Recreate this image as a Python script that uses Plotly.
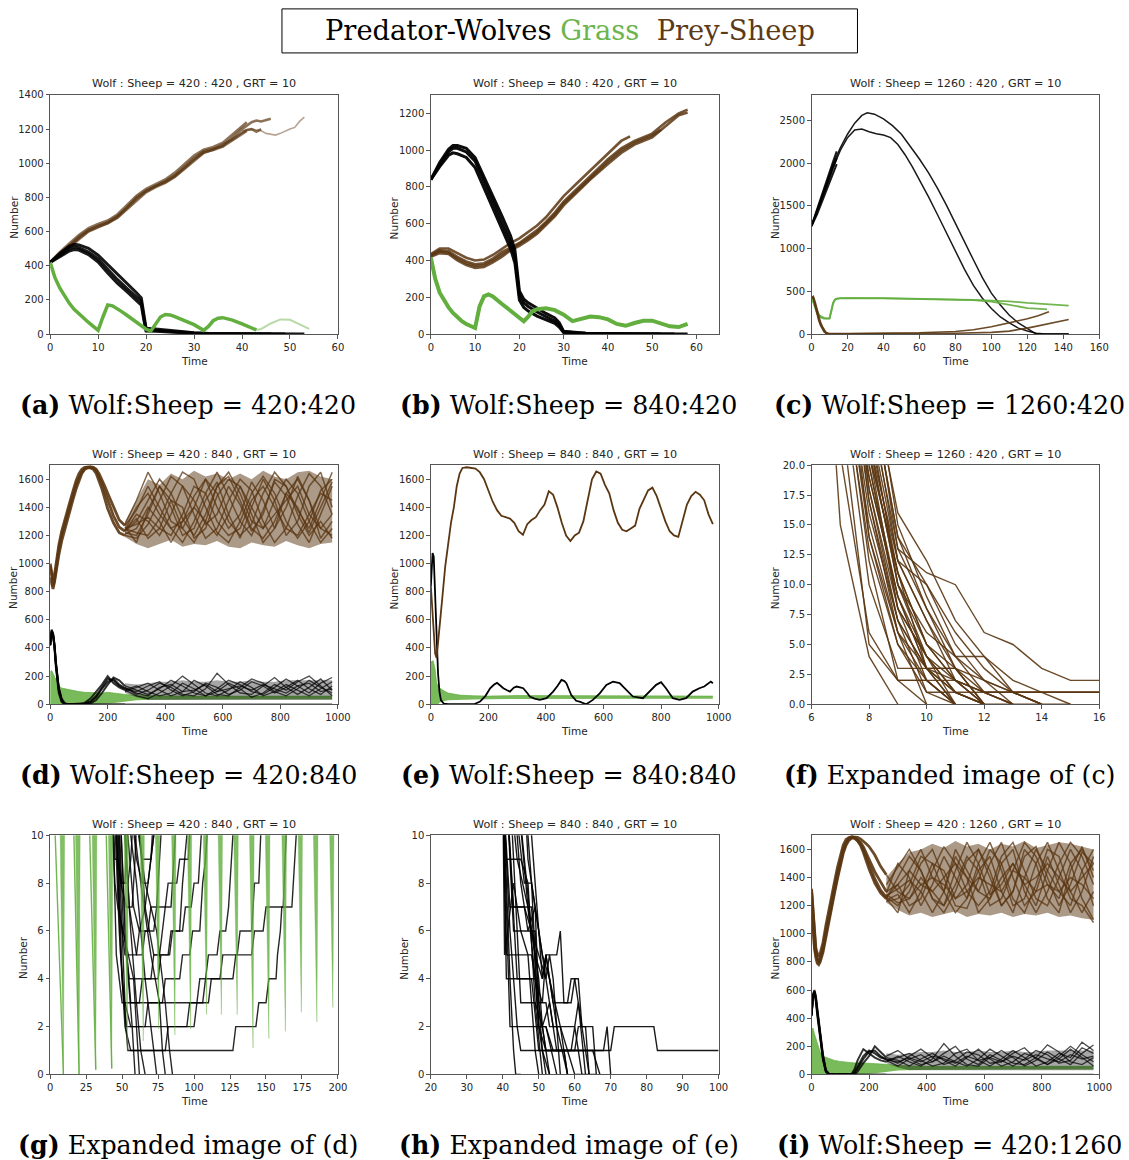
import plotly.graph_objects as go

FIG_W, FIG_H = 1129, 1160
# measured mapping of figure pixels to the photographed page (screen = S * fig + C)
SCREEN_SX, SCREEN_CX = 0.984, 5.8
SCREEN_SY, SCREEN_CY = 0.990, 5.1
WOLF_RGB = (0, 0, 0)
GRASS_RGB = (98, 174, 62)
SHEEP_RGB = (90, 54, 18)

# ---------------- panel layout (target screen pixel boxes) ----------------
COLS = [(50, 338), (431, 719), (812, 1100)]
ROWS = [(94, 333), (464, 703), (834, 1073)]

# ---------------- text ----------------
PANEL_TITLES = ["Wolf : Sheep = 420 : 420 , GRT = 10", "Wolf : Sheep = 840 : 420 , GRT = 10",
                "Wolf : Sheep = 1260 : 420 , GRT = 10", "Wolf : Sheep = 420 : 840 , GRT = 10",
                "Wolf : Sheep = 840 : 840 , GRT = 10", "Wolf : Sheep = 1260 : 420 , GRT = 10",
                "Wolf : Sheep = 420 : 840 , GRT = 10", "Wolf : Sheep = 840 : 840 , GRT = 10",
                "Wolf : Sheep = 420 : 1260 , GRT = 10"]
CAP_TAGS = ["(a)", "(b)", "(c)", "(d)", "(e)", "(f)", "(g)", "(h)", "(i)"]
CAP_TEXT = ["Wolf:Sheep = 420:420", "Wolf:Sheep = 840:420", "Wolf:Sheep = 1260:420",
            "Wolf:Sheep = 420:840", "Wolf:Sheep = 840:840", "Expanded image of (c)",
            "Expanded image of (d)", "Expanded image of (e)", "Wolf:Sheep = 420:1260"]

# ---------------- axes ----------------
X_RANGES = [[0, 60], [0, 65], [0, 160], [0, 1000], [0, 1000], [6, 16], [0, 200], [20, 100], [0, 1000]]
Y_RANGES = [[0, 1400], [0, 1300], [0, 2800], [0, 1700], [0, 1700], [0, 20], [0, 10], [0, 10], [0, 1700]]
X_TICKS = [[0, 10, 20, 30, 40, 50, 60], [0, 10, 20, 30, 40, 50, 60],
           [0, 20, 40, 60, 80, 100, 120, 140, 160], [0, 200, 400, 600, 800, 1000],
           [0, 200, 400, 600, 800, 1000], [6, 8, 10, 12, 14, 16],
           [0, 25, 50, 75, 100, 125, 150, 175, 200], [20, 30, 40, 50, 60, 70, 80, 90, 100],
           [0, 200, 400, 600, 800, 1000]]
Y_TICKS = [[0, 200, 400, 600, 800, 1000, 1200, 1400], [0, 200, 400, 600, 800, 1000, 1200],
           [0, 500, 1000, 1500, 2000, 2500], [0, 200, 400, 600, 800, 1000, 1200, 1400, 1600],
           [0, 200, 400, 600, 800, 1000, 1200, 1400, 1600],
           [0, 2.5, 5, 7.5, 10, 12.5, 15, 17.5, 20], [0, 2, 4, 6, 8, 10], [0, 2, 4, 6, 8, 10],
           [0, 200, 400, 600, 800, 1000, 1200, 1400, 1600]]

# ================= DATA =================
# (a) 420:420
A_SHEEP = [
    [(0,420),(2,470),(4,520),(6,570),(8,610),(10,635),(12,655),(14,690),(16,740),(18,800),(20,840),(22,870),(24,895),(26,930),(28,980),(30,1030),(32,1070),(34,1085),(36,1100),(38,1150),(40,1200),(42,1240),(43,1250),(44,1245),(46,1260)],
    [(0,420),(2,460),(4,505),(6,555),(8,600),(10,625),(12,650),(14,680),(16,730),(18,785),(20,830),(22,860),(24,885),(26,920),(28,965),(30,1015),(32,1060),(34,1080),(36,1110),(38,1140),(40,1180),(41,1195),(42,1200),(43,1185),(44,1200)],
    [(0,420),(2,480),(4,530),(6,580),(8,620),(10,645),(12,665),(14,700),(16,755),(18,810),(20,850),(22,880),(24,905),(26,945),(28,995),(30,1045),(32,1080),(34,1095),(36,1120),(38,1170),(40,1215),(41,1240)],
    [(0,420),(2,465),(4,512),(6,562),(8,605),(10,630),(12,648),(14,684),(16,736),(18,792),(20,836),(22,866),(24,890),(26,925),(28,972),(30,1022),(32,1064),(34,1078),(36,1098),(38,1135),(40,1170),(41,1190)],
]
A_SHEEP_TAIL = [(40,1190),(42,1200),(44,1190),(45,1175),(47,1165),(48,1175),(50,1200),(51,1210),(52,1245),(53,1270)]
A_WOLF = [
    [(0,420),(2,460),(4,500),(5,510),(6,505),(8,480),(10,440),(12,380),(14,320),(16,268),(18,215),(19,192),(19.5,100),(20,25),(22,22),(25,15),(28,10),(30,6),(33,3),(36,2),(40,1),(45,0),(53,0)],
    [(0,420),(2,472),(4,515),(5,526),(6,522),(8,502),(10,462),(12,408),(14,350),(16,295),(18,242),(19,212),(19.5,125),(20,34),(22,30),(25,21),(28,13),(30,8),(33,4),(36,2),(40,1),(45,0),(49,0)],
    [(0,420),(2,452),(4,486),(5,495),(6,492),(8,465),(10,422),(12,358),(14,298),(16,248),(18,194),(19,170),(19.5,88),(20,18),(22,16),(25,11),(28,7),(30,4),(33,2),(36,1),(40,0),(46,0)],
]
A_GRASS = [(0,420),(1,330),(2,270),(3,220),(4,180),(5,145),(6,118),(7,92),(8,68),(9,45),(10,22),(11,100),(12,170),(13,165),(14,150),(15,130),(16,110),(17,90),(18,68),(19,48),(20,28),(21,18),(22,60),(23,100),(24,115),(25,112),(26,102),(28,80),(30,55),(32,22),(33,45),(34,78),(35,93),(36,96),(38,82),(40,60),(42,38),(43,24)]
A_GRASS_TAIL = [(43,24),(44,30),(46,62),(48,86),(50,84),(52,58),(54,30)]

# (b) 840:420
B_WOLF = [
    [(0,840),(2,920),(4,990),(5,1010),(6,1010),(8,990),(10,940),(12,830),(14,720),(16,610),(18,500),(19,420),(20,210),(21,170),(22,150),(24,120),(26,95),(28,70),(29,50),(30,12),(32,8),(35,4),(40,2),(45,1),(50,0),(58,0)],
    [(0,840),(2,910),(4,972),(5,985),(6,980),(8,960),(10,905),(12,795),(14,685),(16,578),(18,465),(19,385),(20,185),(21,145),(22,125),(24,98),(26,78),(28,58),(29,38),(30,8),(32,5),(35,3),(40,1),(45,0),(55,0)],
    [(0,840),(2,932),(4,1005),(5,1025),(6,1025),(8,1010),(10,960),(12,858),(14,752),(16,645),(18,535),(19,455),(20,235),(21,190),(22,170),(24,140),(26,112),(28,88),(29,62),(30,15),(32,10),(35,5),(40,3),(45,1),(52,0)],
]
B_SHEEP = [
    [(0,430),(2,455),(4,450),(6,420),(8,395),(10,380),(12,385),(14,410),(16,445),(18,470),(20,495),(22,530),(24,565),(26,610),(28,660),(30,720),(33,790),(36,860),(40,950),(43,1010),(46,1050),(50,1090),(53,1150),(56,1200),(58,1220)],
    [(0,420),(2,440),(4,435),(6,400),(8,375),(10,360),(12,365),(14,390),(16,420),(18,455),(20,480),(22,510),(24,545),(26,590),(28,640),(30,700),(33,770),(36,840),(40,925),(43,985),(46,1030),(50,1070),(53,1130),(56,1190),(58,1205)],
    [(0,435),(2,465),(4,465),(6,440),(8,415),(10,400),(12,405),(14,430),(16,465),(18,495),(20,520),(22,555),(24,590),(26,635),(28,690),(30,750),(33,820),(36,890),(40,985),(43,1050),(45,1075)],
    [(0,425),(2,450),(4,442),(6,410),(8,385),(10,370),(12,375),(14,400),(16,432),(18,462),(20,488),(22,520),(24,555),(26,600),(28,650),(30,710),(33,780),(36,850),(40,938),(43,998),(46,1040),(50,1080),(52,1110)],
]
B_GRASS = [(0,415),(1,300),(2,225),(3,180),(4,145),(5,115),(6,90),(7,70),(8,55),(9,42),(10,33),(11,150),(12,205),(13,215),(14,205),(16,165),(18,125),(20,90),(21,70),(22,95),(23,125),(24,135),(25,140),(26,140),(28,130),(30,105),(32,70),(33,75),(34,85),(36,95),(38,92),(40,80),(42,55),(44,45),(46,60),(48,72),(50,73),(52,60),(54,42),(56,38),(58,55)]

# (c) 1260:420
C_WOLF_LONG = [
    [(0,1266),(4,1500),(8,1750),(12,1990),(16,2180),(20,2340),(24,2470),(28,2560),(31,2590),(35,2575),(40,2520),(45,2440),(50,2340),(55,2200),(60,2050),(65,1890),(70,1710),(75,1510),(80,1290),(85,1080),(90,870),(95,660),(100,480),(105,340),(110,220),(115,130),(120,60),(123,20),(125,0),(143,0)],
    [(0,1266),(4,1480),(8,1720),(12,1950),(16,2150),(20,2300),(24,2390),(28,2400),(32,2370),(36,2345),(40,2330),(44,2300),(48,2220),(52,2100),(56,1960),(60,1810),(65,1610),(70,1400),(75,1180),(80,970),(85,760),(90,570),(95,420),(100,300),(105,200),(110,130),(115,70),(120,35),(125,10),(130,0),(143,0)],
]
C_WOLF_SHORT = [
    [(0,1266),(3,1430),(6,1600),(9,1770),(12,1950),(14,2060)],
    [(0,1266),(3,1460),(6,1650),(9,1830),(12,2020),(14,2140)],
    [(0,1266),(3,1400),(6,1560),(9,1720),(12,1890),(14,1990)],
]
C_SHEEP = [
    [(0,420),(1,440),(2,380),(3,290),(4,210),(5,140),(6,90),(7,50),(8,22),(9,10),(10,5),(20,5),(40,8),(60,15),(80,30),(90,50),(100,85),(110,130),(120,180),(126,215),(132,260)],
    [(0,420),(1,430),(2,350),(3,260),(4,180),(5,120),(6,70),(7,35),(8,15),(9,6),(10,3),(20,2),(40,3),(60,5),(80,10),(100,20),(110,35),(120,70),(130,115),(136,145),(143,170)],
    [(0,440),(1,420),(2,330),(3,240),(4,160),(5,100),(6,55),(7,25),(8,10),(9,3),(10,0),(14,0)],
]
C_GRASS = [
    [(0,430),(1,380),(2,320),(3,260),(4,230),(5,210),(6,195),(7,190),(8,185),(9,183),(10,185),(11,280),(12,370),(13,405),(14,415),(16,420),(20,422),(40,420),(60,415),(80,405),(90,400),(100,392),(110,384),(120,365),(130,350),(143,333)],
    [(0,430),(1,370),(2,300),(3,245),(4,215),(5,195),(6,185),(7,180),(8,178),(9,178),(10,182),(11,260),(12,355),(13,400),(14,412),(16,418),(20,420),(40,418),(60,412),(80,405),(90,398),(100,380),(105,360),(110,340),(115,320),(120,305),(125,298),(131,290)],
]

# (d) 420:840
D_EARLY_T = [0, 5, 10, 15, 20, 30, 40, 50, 60, 70, 80, 90, 100, 110, 120, 130, 140, 150, 160, 170, 180, 190, 200, 220, 240, 260]
D_SHEEP_EARLY = [
    [990, 900, 840, 880, 960, 1100, 1200, 1280, 1340, 1420, 1490, 1560, 1610, 1650, 1675, 1685, 1685, 1680, 1660, 1620, 1570, 1510, 1450, 1340, 1260, 1230],
    [900, 850, 820, 870, 940, 1060, 1160, 1240, 1310, 1390, 1460, 1530, 1590, 1640, 1670, 1680, 1680, 1670, 1640, 1590, 1530, 1460, 1390, 1290, 1220, 1200],
    [1000, 940, 880, 920, 1000, 1130, 1230, 1310, 1380, 1450, 1520, 1590, 1640, 1670, 1685, 1690, 1690, 1685, 1670, 1640, 1600, 1550, 1500, 1400, 1310, 1270],
]
LATE_T = [260, 300, 340, 380, 420, 460, 500, 540, 580, 620, 660, 700, 740, 780, 820, 860, 900, 940, 980]
D_SHEEP_LATE = [
    [1230, 1300, 1450, 1600, 1500, 1320, 1200, 1350, 1550, 1620, 1450, 1250, 1180, 1300, 1500, 1600, 1450, 1250, 1200],
    [1200, 1180, 1280, 1450, 1620, 1550, 1350, 1180, 1250, 1450, 1600, 1520, 1300, 1150, 1250, 1480, 1640, 1550, 1350],
    [1270, 1380, 1550, 1400, 1250, 1150, 1300, 1500, 1650, 1480, 1300, 1200, 1380, 1580, 1480, 1280, 1150, 1350, 1550],
    [1250, 1220, 1200, 1320, 1500, 1650, 1600, 1400, 1220, 1150, 1300, 1500, 1620, 1500, 1300, 1180, 1300, 1520, 1600],
    [1230, 1350, 1300, 1200, 1350, 1550, 1450, 1280, 1350, 1550, 1420, 1230, 1350, 1600, 1550, 1350, 1200, 1300, 1180],
    [1260, 1150, 1380, 1550, 1400, 1200, 1250, 1450, 1580, 1350, 1180, 1400, 1600, 1450, 1200, 1300, 1550, 1650, 1400],
    [1210, 1250, 1400, 1300, 1150, 1300, 1480, 1600, 1400, 1250, 1350, 1580, 1450, 1250, 1400, 1620, 1450, 1180, 1300],
    [1240, 1320, 1180, 1250, 1450, 1400, 1180, 1250, 1480, 1600, 1550, 1350, 1150, 1250, 1500, 1400, 1220, 1400, 1580],
    [1280, 1450, 1650, 1500, 1300, 1250, 1400, 1600, 1500, 1300, 1200, 1280, 1500, 1650, 1550, 1380, 1250, 1450, 1650],
    [1220, 1200, 1350, 1550, 1450, 1250, 1150, 1300, 1550, 1650, 1500, 1300, 1250, 1450, 1600, 1500, 1300, 1150, 1250],
    [1250, 1280, 1330, 1250, 1200, 1350, 1550, 1500, 1300, 1200, 1250, 1450, 1550, 1400, 1250, 1200, 1350, 1500, 1450],
    [1240, 1400, 1500, 1350, 1250, 1300, 1400, 1300, 1200, 1350, 1550, 1400, 1250, 1350, 1450, 1550, 1350, 1250, 1350],
]
D_SHEEP_BAND_LO = [1190, 1140, 1110, 1140, 1170, 1120, 1140, 1130, 1160, 1120, 1110, 1150, 1130, 1120, 1160, 1130, 1110, 1140, 1150]
D_SHEEP_BAND_UP = [1300, 1450, 1600, 1560, 1640, 1600, 1660, 1620, 1640, 1600, 1640, 1600, 1660, 1620, 1600, 1650, 1660, 1620, 1600]
D_WOLF_T = [0, 5, 10, 15, 20, 25, 30, 40, 50, 60, 80, 100, 120, 140, 160, 180, 200, 220, 240, 260]
D_WOLF_EARLY = [
    [420, 520, 500, 420, 290, 180, 110, 30, 5, 0, 0, 0, 5, 20, 60, 120, 180, 170, 130, 110],
    [420, 510, 490, 400, 260, 150, 80, 15, 2, 0, 0, 0, 0, 5, 30, 80, 140, 190, 170, 130],
    [420, 530, 505, 430, 300, 190, 120, 40, 8, 0, 0, 0, 0, 0, 0, 0, 0, 0, 0, 0],
    [420, 515, 495, 410, 280, 170, 100, 25, 4, 0, 0, 0, 10, 40, 90, 140, 200, 150, 120, 100],
    [420, 525, 498, 415, 285, 175, 105, 28, 5, 0, 0, 0, 2, 15, 50, 110, 160, 180, 140, 115],
]
D_WOLF_LATE = [
    [110, 90, 130, 160, 100, 60, 90, 150, 120, 70, 100, 160, 130, 80, 120, 170, 110, 70, 130],
    [130, 100, 70, 110, 170, 130, 80, 60, 110, 170, 140, 90, 70, 120, 180, 130, 80, 150, 190],
    [100, 60, 40, 80, 130, 200, 140, 80, 60, 100, 160, 120, 60, 90, 140, 100, 60, 110, 160],
    [90, 120, 150, 100, 60, 90, 170, 130, 70, 60, 120, 180, 150, 90, 60, 110, 170, 120, 80],
    [120, 70, 100, 150, 120, 70, 60, 110, 220, 140, 80, 70, 130, 190, 120, 70, 120, 180, 100],
    [100, 130, 90, 60, 80, 150, 110, 60, 90, 150, 110, 50, 80, 140, 100, 160, 200, 130, 60],
    [115, 80, 60, 120, 140, 90, 100, 140, 90, 110, 130, 100, 140, 110, 80, 130, 150, 90, 110],
    [0, 0, 0, 0, 0, 0, 0, 0, 0, 0, 0, 0, 0, 0, 0, 0, 0, 0, 0],
]
D_WOLF_BAND_LO = [80, 50, 30, 30, 30, 30, 30, 30, 30, 30, 30, 30, 30, 30, 30, 30, 30, 30, 30]
D_WOLF_BAND_UP = [150, 140, 150, 160, 160, 170, 160, 160, 170, 160, 160, 170, 160, 160, 170, 170, 170, 170, 170]
GRASS_ENV_T = [0, 5, 10, 20, 30, 40, 60, 80, 100, 120, 150, 180, 200, 230, 260, 300, 350, 400, 500, 600, 700, 800, 900, 980]
D_GRASS_UP = [230, 240, 220, 170, 130, 115, 105, 95, 90, 85, 80, 80, 85, 80, 70, 62, 60, 58, 58, 58, 58, 58, 58, 58]
D_GRASS_LO = [0, 0, 0, 0, 0, 0, 0, 0, 0, 0, 0, 2, 5, 10, 20, 28, 32, 33, 35, 35, 35, 36, 36, 36]

# (e) 840:840
E_SHEEP = [(0,840),(5,650),(10,480),(15,360),(20,330),(30,520),(40,760),(50,980),(60,1150),(70,1290),(80,1400),(90,1550),(100,1640),(110,1680),(125,1685),(140,1680),(155,1675),(170,1650),(185,1600),(200,1520),(215,1440),(230,1380),(245,1340),(260,1330),(275,1320),(290,1290),(305,1230),(320,1205),(335,1280),(350,1310),(365,1330),(380,1380),(395,1420),(410,1515),(425,1490),(440,1400),(455,1290),(470,1200),(485,1160),(500,1200),(515,1220),(530,1300),(545,1450),(560,1600),(575,1655),(590,1640),(605,1560),(620,1500),(635,1380),(650,1290),(665,1240),(680,1230),(695,1250),(710,1270),(725,1390),(740,1460),(755,1520),(770,1540),(785,1480),(800,1390),(815,1300),(830,1230),(845,1200),(860,1190),(875,1310),(890,1420),(905,1480),(920,1510),(935,1490),(950,1450),(965,1350),(980,1280)]
E_WOLF = [(0,840),(3,1000),(6,1075),(10,1050),(13,900),(17,650),(21,380),(25,220),(30,90),(35,30),(45,5),(60,0),(150,0),(171,19),(190,60),(206,114),(220,140),(230,152),(240,135),(252,114),(265,100),(275,90),(288,118),(298,126),(310,120),(321,114),(335,80),(344,55),(360,40),(379,31),(402,43),(425,90),(440,130),(454,173),(464,165),(471,150),(488,66),(505,25),(517,19),(540,0),(563,31),(587,78),(610,138),(633,161),(656,150),(673,114),(690,75),(702,55),(737,43),(760,90),(783,138),(800,157),(817,114),(841,43),(864,31),(887,43),(910,90),(933,114),(950,126),(973,161),(980,150)]
E_GRASS_UP = [(0,300),(8,310),(15,250),(20,150),(30,115),(40,100),(50,90),(60,80),(80,70),(100,65),(150,60),(200,58),(300,62),(400,62),(500,62),(600,58),(700,58),(800,57),(900,57),(980,58)]
E_GRASS_LO = [(0,0),(25,0),(30,10),(40,20),(60,28),(100,32),(150,33),(200,35),(300,38),(980,40)]

# (f) zoom of (c): sheep values at integer times from t=6
F_T = [6, 7, 8, 9, 10, 11, 12, 13, 14, 15, 16]
F_SHEEP = [
    [50, 15, 4, 0], [60, 21, 6, 2, 0], [70, 25, 5, 2, 2, 0], [65, 28, 10, 3, 3, 3, 0],
    [80, 30, 12, 2, 2, 2, 1, 1, 1, 1, 1], [90, 35, 14, 5, 1, 1, 1, 1, 1, 1, 1],
    [100, 40, 28, 13, 11, 10, 6, 5, 3, 2, 2], [85, 38, 22, 10, 6, 4, 4, 1, 1, 1, 1],
    [75, 32, 16, 7, 3, 0], [70, 30, 15, 6, 0], [95, 40, 20, 9, 4, 1, 0],
    [110, 45, 24, 12, 7, 3, 1, 0], [90, 36, 17, 6, 2, 0], [100, 42, 23, 11, 5, 2, 0],
    [80, 33, 19, 9, 3, 1, 0, 0, 0], [105, 44, 26, 12, 10, 5, 2, 0], [120, 48, 30, 15, 9, 4, 2, 1, 0],
    [95, 39, 21, 11, 5, 2, 1, 1, 0], [75, 31, 14, 6, 3, 1, 0], [115, 46, 25, 13, 8, 3, 2, 1, 0, 0],
    [88, 37, 20, 8, 2, 0], [130, 50, 27, 14, 10, 6, 3, 1, 0], [92, 40, 22, 12, 7, 2, 0],
    [78, 34, 17, 7, 1, 0], [125, 50, 28, 16, 12, 7, 4, 2, 1, 0], [86, 36, 19, 9, 3, 0],
    [108, 44, 24, 10, 5, 3, 0], [98, 41, 21, 8, 4, 2, 1, 0],
    [82, 35, 18, 8, 4, 0], [102, 43, 22, 10, 4, 1, 0], [93, 38, 18, 7, 3, 2, 0],
    [72, 29, 13, 5, 2, 0], [112, 47, 27, 14, 8, 4, 1, 0], [84, 36, 21, 11, 3, 3, 0],
]

# (g) zoom of (d): wolves near extinction and grass minima
G_WOLF = [
    [(44,12),(48,6),(52,2),(56,1),(127,1),(129,2),(143,2),(145,3),(150,3),(152,4),(157,4),(158,5),(160,6),(161,7),(168,7),(170,9),(172,11)],
    [(43,12),(46,5),(50,3),(106,3),(108,4),(127,4),(129,5),(140,5),(142,6),(148,6),(150,7),(162,7),(164,10),(165,12)],
    [(45,12),(49,5),(53,2),(60,2),(95,2),(97,3),(110,3),(112,4),(118,4),(120,5),(130,5),(132,6),(140,6),(142,8),(145,8),(147,11)],
    [(46,12),(50,4),(54,1),(80,1),(82,2),(100,2),(102,3),(104,4),(108,4),(110,5),(116,5),(118,6),(122,6),(124,7),(126,9),(128,11)],
    [(47,12),(51,6),(55,4),(75,4),(77,5),(83,5),(85,6),(92,6),(94,7),(98,7),(100,8),(103,8),(105,10),(106,12)],
    [(45,12),(48,7),(52,5),(60,5),(62,6),(68,6),(70,7),(80,7),(82,8),(88,8),(90,9),(96,9),(98,11)],
    [(42,12),(45,8),(47,7),(58,4),(62,0)],
    [(48,12),(53,5),(57,2),(59,0)],
    [(50,12),(56,6),(60,3),(63,1),(66,0)],
    [(52,12),(60,8),(66,4),(70,2),(74,0)],
    [(55,12),(63,8),(70,5),(76,3),(78,1),(80,0)],
    [(57,12),(66,8),(74,6),(80,3),(83,1),(85,0)],
    [(48,12),(52,6),(56,3),(62,3),(64,4),(70,4),(72,5),(76,5),(78,6),(80,7),(84,7),(86,9),(88,11)],
    [(44,12),(47,9),(50,8),(54,8),(56,9),(58,11)],
    [(50,12),(55,7),(60,5),(64,5),(66,6),(72,6),(74,7),(76,9),(78,11)],
    [(46,12),(52,3),(56,2),(66,2),(68,3),(78,3),(80,4),(90,4),(92,5),(97,5),(99,6),(104,6),(106,8),(108,9),(110,11)],
    [(55,12),(60,9),(64,8),(68,8),(70,9),(72,11)],
    [(50,12),(54,10),(58,7),(62,6),(66,7),(70,9),(74,11)],
    [(43,12),(45,9),(47,9),(49,8),(52,8),(54,10),(55,12)],
    [(58,12),(64,9),(70,9),(72,10),(73,12)],
    [(47,12),(49,8),(53,7),(57,7),(59,9),(61,12)],
    [(60,12),(66,7),(72,5),(82,5),(84,6),(90,6),(92,8),(95,10),(96,12)],
]
G_SPIKE_T = [9.2, 20.1, 31.7, 42.8, 53.6, 64.7, 75.4, 86.7, 97.6, 108.7, 119, 130, 141, 152, 163.5, 174.6, 185.4, 196.5]
G_SPIKE_MIN = [0, 0, 0.2, 0.25, 1.0, 1.4, 1.9, 1.65, 1.9, 2.5, 2.5, 2.5, 1.1, 1.5, 1.8, 2.6, 2.2, 2.8]
G_SPIKE_WL = [2.4, 2.6, 2.6, 2.4, 2.4, 2.4, 2.4, 2.4, 2.4, 2.4, 2.4, 2.6, 2.6, 2.6, 2.6, 2.4, 2.6, 2.4]
G_SPIKE_WR = [0.9, 0.8, 0.8, 0.8, 0.8, 0.8, 0.8, 0.8, 0.8, 0.8, 0.8, 0.8, 0.8, 0.8, 0.8, 0.8, 0.8, 0.8]
G_GRASS_ARMS = [[(3.5,10),(9.2,0)], [(16.5,10),(20.1,0)], [(27.5,10),(31.7,0.2)], [(39,10),(42.8,0.25)]]

# (h) zoom of (e): wolves near extinction
H_WOLF = [
    [(40,12),(42,6),(44,2),(45,1),(70,1),(71,2),(82,2),(83,1),(100,1)],
    [(40,12),(42,4),(43,1),(43.6,0),(45,0)],
    [(44,12),(47,7),(49,5),(51,4),(52,5),(55,5),(56,6),(57,3),(59,3),(60,4),(61,4),(62,2),(64,0)],
    [(40,12),(41,4),(49,4),(51,3),(52,5),(53,4),(55,2),(58,0)],
    [(40,12),(41,5),(48,5),(50,3),(52,3),(53,2),(56,2),(58,0)],
    [(40,12),(42,7),(48,7),(50,2),(52,1),(60,1),(61,2),(63,2),(64,0)],
    [(40,12),(41,9),(45,9),(47,8),(49,3),(51,0)],
    [(41,12),(43,6),(49,6),(50,3),(51,1),(53,0)],
    [(42,12),(45,3),(49,3),(51,2),(53,3),(55,1),(59,1),(60,2),(62,0)],
    [(43,12),(46,8),(48,8),(50,2),(52,2),(55,0)],
    [(44,12),(46,9),(48,6),(50,5),(52,4),(53,5),(54,4),(56,0)],
    [(45,12),(48,10),(49,8),(50,6),(51,4),(52,5),(53,4),(54,3),(58,3),(59,4),(60,4),(61,3),(63,0)],
    [(40,12),(42,2),(52,2),(54,1),(65,1),(67,0)],
    [(46,12),(48,8),(51,5),(54,2),(60,2),(61,3),(62,2),(65,2),(66,0)],
    [(40,12),(40.5,5),(43,8),(45,6),(47,5),(49,1),(50,0)],
    [(42,12),(44,9),(47,7),(49,4),(50,2),(51,1),(52,0)],
    [(41,12),(44,4),(48,4),(50,1),(68,1),(69,2),(70,0)],
    [(43,12),(45,8),(47,6),(49,7),(50,3),(52,1),(57,1),(58,0)],
    [(46,12),(47,9),(49,7),(51,5),(53,4),(56,2),(60,0),(66,0)],
    [(41,12),(43,7),(46,7),(48,6),(50,4),(51,2),(53,0)],
]

# (i) 420:1260
I_EARLY_T = [0, 5, 10, 15, 20, 25, 30, 40, 50, 60, 70, 80, 90, 100, 110, 120, 130, 140, 150, 160, 170, 180, 190, 200, 220, 240, 260]
I_SHEEP_EARLY = [
    [1310, 1150, 950, 870, 830, 800, 830, 900, 1020, 1130, 1230, 1330, 1430, 1520, 1600, 1650, 1675, 1685, 1680, 1660, 1630, 1580, 1520, 1460, 1360, 1290, 1250],
    [1250, 1050, 900, 830, 790, 780, 800, 870, 980, 1090, 1190, 1290, 1390, 1480, 1570, 1630, 1665, 1680, 1680, 1665, 1640, 1600, 1550, 1490, 1390, 1310, 1260],
    [1320, 1180, 1000, 900, 860, 840, 860, 940, 1060, 1170, 1270, 1370, 1470, 1560, 1630, 1670, 1685, 1690, 1685, 1670, 1650, 1620, 1580, 1530, 1440, 1370, 1300],
    [1280, 1100, 920, 850, 810, 790, 815, 890, 1000, 1110, 1210, 1310, 1410, 1500, 1590, 1645, 1675, 1690, 1690, 1685, 1675, 1660, 1640, 1620, 1560, 1480, 1420],
]
I_SHEEP_LATE = [
    [1250, 1400, 1550, 1450, 1250, 1150, 1300, 1520, 1600, 1400, 1200, 1300, 1550, 1620, 1400, 1200, 1350, 1580, 1500],
    [1260, 1200, 1300, 1500, 1600, 1400, 1200, 1180, 1380, 1600, 1500, 1250, 1150, 1350, 1600, 1550, 1300, 1150, 1300],
    [1300, 1350, 1200, 1250, 1450, 1620, 1500, 1300, 1200, 1300, 1550, 1650, 1450, 1250, 1200, 1400, 1600, 1450, 1200],
    [1420, 1300, 1250, 1400, 1300, 1200, 1450, 1650, 1500, 1280, 1350, 1500, 1350, 1200, 1450, 1650, 1500, 1250, 1100],
    [1290, 1500, 1400, 1200, 1350, 1550, 1400, 1250, 1450, 1550, 1300, 1150, 1400, 1600, 1450, 1300, 1200, 1450, 1600],
    [1250, 1150, 1450, 1600, 1400, 1300, 1550, 1400, 1150, 1250, 1500, 1600, 1300, 1150, 1300, 1500, 1650, 1550, 1350],
    [1270, 1320, 1380, 1300, 1150, 1300, 1600, 1450, 1300, 1500, 1650, 1400, 1200, 1300, 1550, 1350, 1150, 1300, 1550],
    [1240, 1280, 1150, 1300, 1500, 1450, 1250, 1350, 1600, 1450, 1200, 1300, 1600, 1500, 1250, 1150, 1450, 1620, 1400],
    [1350, 1480, 1600, 1450, 1250, 1200, 1350, 1550, 1450, 1200, 1250, 1450, 1650, 1550, 1350, 1250, 1500, 1600, 1450],
    [1230, 1250, 1350, 1550, 1500, 1300, 1150, 1250, 1500, 1650, 1450, 1200, 1250, 1500, 1650, 1450, 1250, 1200, 1080],
    [1280, 1220, 1250, 1350, 1400, 1350, 1250, 1300, 1400, 1350, 1300, 1450, 1400, 1300, 1350, 1300, 1400, 1350, 1250],
    [1260, 1350, 1450, 1350, 1300, 1400, 1500, 1400, 1300, 1250, 1400, 1500, 1350, 1400, 1500, 1400, 1300, 1400, 1500],
]
I_SHEEP_BAND_LO = [1220, 1170, 1130, 1150, 1120, 1140, 1160, 1120, 1140, 1130, 1150, 1120, 1140, 1130, 1150, 1120, 1130, 1110, 1100]
I_SHEEP_BAND_UP = [1400, 1500, 1580, 1600, 1640, 1610, 1660, 1620, 1640, 1600, 1640, 1620, 1660, 1610, 1630, 1650, 1640, 1620, 1600]
I_WOLF_T = [0, 5, 10, 15, 20, 30, 40, 50, 60, 80, 100, 120, 140, 150, 160, 180, 200, 220, 240, 260]
I_WOLF_EARLY = [
    [420, 560, 590, 540, 450, 280, 120, 25, 3, 0, 0, 0, 0, 20, 60, 130, 170, 150, 120, 110],
    [420, 540, 580, 520, 420, 250, 100, 18, 2, 0, 0, 0, 5, 40, 100, 180, 150, 120, 100, 90],
    [420, 570, 600, 560, 470, 300, 140, 30, 5, 0, 0, 0, 0, 0, 20, 80, 130, 200, 160, 120],
    [420, 550, 585, 530, 440, 270, 110, 22, 3, 0, 0, 0, 0, 0, 0, 0, 0, 0, 0, 0],
    [420, 555, 592, 548, 455, 285, 125, 27, 4, 0, 0, 0, 2, 10, 40, 110, 160, 170, 130, 105],
]
I_WOLF_LATE = [
    [110, 80, 130, 180, 120, 70, 100, 160, 140, 80, 90, 150, 190, 110, 70, 130, 200, 140, 90],
    [90, 130, 90, 60, 110, 220, 130, 70, 60, 120, 170, 120, 60, 100, 160, 110, 70, 150, 210],
    [120, 100, 60, 110, 150, 100, 60, 120, 180, 110, 60, 90, 150, 120, 70, 110, 180, 120, 60],
    [100, 60, 110, 140, 90, 150, 200, 110, 70, 140, 100, 60, 110, 170, 140, 80, 100, 190, 150],
    [130, 170, 110, 70, 90, 130, 90, 60, 110, 180, 130, 80, 70, 120, 210, 160, 90, 70, 120],
    [100, 120, 150, 100, 60, 80, 150, 180, 100, 60, 110, 170, 120, 60, 90, 150, 120, 230, 170],
    [105, 90, 120, 90, 130, 110, 80, 130, 100, 120, 90, 130, 100, 140, 110, 90, 140, 110, 130],
    [0, 0, 0, 0, 0, 0, 0, 0, 0, 0, 0, 0, 0, 0, 0, 0, 0, 0, 0],
]
I_GRASS_UP = [320, 330, 290, 220, 160, 130, 115, 100, 92, 86, 82, 82, 80, 78, 72, 64, 60, 58, 58, 58, 58, 58, 58, 58]
I_GRASS_LO = [0, 0, 0, 0, 0, 0, 0, 0, 0, 0, 0, 2, 5, 10, 20, 28, 32, 33, 35, 35, 35, 36, 36, 36]

# ================= FIGURE =================
fig = go.Figure()

SANS = "DejaVu Sans, sans-serif"
SERIF = "DejaVu Serif, serif"
TXT = "#262626"
FRAME = "#555555"


def px_x(x):
    return ((x - SCREEN_CX) / SCREEN_SX) / FIG_W


def px_y(y):
    return 1 - ((y - SCREEN_CY) / SCREEN_SY) / FIG_H


def rgba(rgb, a):
    return "rgba(%d,%d,%d,%s)" % (rgb[0], rgb[1], rgb[2], a)


def axn(letter, k):
    return letter if k == 1 else "%s%d" % (letter, k)


def xy(pairs):
    return [p[0] for p in pairs], [p[1] for p in pairs]


def add_line(k, x, y, rgb, a=1.0, w=1.4):
    fig.add_trace(go.Scatter(x=x, y=y, mode="lines", line=dict(color=rgba(rgb, a), width=w),
                             xaxis=axn("x", k), yaxis=axn("y", k), showlegend=False, hoverinfo="skip"))


def add_band(k, xl, yl, xu, yu, rgb, a, lw=0.8):
    fig.add_trace(go.Scatter(x=xl, y=yl, mode="lines", line=dict(color=rgba(rgb, 0), width=0),
                             xaxis=axn("x", k), yaxis=axn("y", k), showlegend=False, hoverinfo="skip"))
    fig.add_trace(go.Scatter(x=xu, y=yu, mode="lines", line=dict(color=rgba(rgb, a), width=lw),
                             fill="tonexty", fillcolor=rgba(rgb, a),
                             xaxis=axn("x", k), yaxis=axn("y", k), showlegend=False, hoverinfo="skip"))


# (a)
for run in A_SHEEP:
    add_line(1, *xy(run), SHEEP_RGB, 0.7, 2.6)
add_line(1, *xy(A_SHEEP_TAIL), SHEEP_RGB, 0.45, 1.6)
for run in A_WOLF:
    add_line(1, *xy(run), WOLF_RGB, 0.9, 3.0)
add_line(1, *xy(A_GRASS), GRASS_RGB, 1.0, 3.5)
add_line(1, *xy(A_GRASS_TAIL), GRASS_RGB, 0.45, 2.0)

# (b)
for run in B_SHEEP:
    add_line(2, *xy(run), SHEEP_RGB, 0.85, 2.6)
for run in B_WOLF:
    add_line(2, *xy(run), WOLF_RGB, 0.95, 3.0)
add_line(2, *xy(B_GRASS), GRASS_RGB, 1.0, 4.0)

# (c)
for run in C_WOLF_SHORT:
    add_line(3, *xy(run), WOLF_RGB, 0.9, 2.0)
for run in C_WOLF_LONG:
    add_line(3, *xy(run), WOLF_RGB, 0.9, 1.5)
for run in C_GRASS:
    add_line(3, *xy(run), GRASS_RGB, 0.9, 1.8)
for run in C_SHEEP:
    add_line(3, *xy(run), SHEEP_RGB, 0.9, 1.6)

# (d)
add_band(4, GRASS_ENV_T, D_GRASS_LO, GRASS_ENV_T, D_GRASS_UP, GRASS_RGB, 0.85)
add_band(4, LATE_T, D_WOLF_BAND_LO, LATE_T, D_WOLF_BAND_UP, WOLF_RGB, 0.35, 0)
for run in D_WOLF_EARLY:
    add_line(4, D_WOLF_T, run, WOLF_RGB, 0.8, 2.0)
for run in D_WOLF_LATE:
    add_line(4, LATE_T, run, WOLF_RGB, 0.7, 1.3)
add_band(4, LATE_T, D_SHEEP_BAND_LO, LATE_T, D_SHEEP_BAND_UP, SHEEP_RGB, 0.5, 0)
for run in D_SHEEP_EARLY:
    add_line(4, D_EARLY_T, run, SHEEP_RGB, 0.9, 2.8)
for run in D_SHEEP_LATE:
    add_line(4, LATE_T, run, SHEEP_RGB, 0.75, 1.5)

# (e)
add_band(5, *xy(E_GRASS_LO), *xy(E_GRASS_UP), GRASS_RGB, 0.85)
add_line(5, *xy(E_WOLF), WOLF_RGB, 1.0, 1.8)
add_line(5, *xy(E_SHEEP), SHEEP_RGB, 1.0, 1.8)

# (f)
for run in F_SHEEP:
    add_line(6, F_T[:len(run)], run, SHEEP_RGB, 0.9, 1.4)

# (g)
for run in G_WOLF:
    add_line(7, *xy(run), WOLF_RGB, 0.85, 1.4)
for arm in G_GRASS_ARMS:
    add_line(7, *xy(arm), GRASS_RGB, 0.9, 1.4)
for tm, vm, wl, wr in zip(G_SPIKE_T, G_SPIKE_MIN, G_SPIKE_WL, G_SPIKE_WR):
    fig.add_trace(go.Scatter(x=[tm - wl, tm + wr, tm, tm - wl], y=[10.5, 10.5, vm, 10.5],
                             mode="lines", fill="toself", fillcolor=rgba(GRASS_RGB, 0.8),
                             line=dict(color=rgba(GRASS_RGB, 0.6), width=0.5),
                             xaxis="x7", yaxis="y7", showlegend=False, hoverinfo="skip"))

# (h)
for run in H_WOLF:
    add_line(8, *xy(run), WOLF_RGB, 0.9, 1.4)

# (i)
add_band(9, GRASS_ENV_T, I_GRASS_LO, GRASS_ENV_T, I_GRASS_UP, GRASS_RGB, 0.85)
add_band(9, LATE_T, D_WOLF_BAND_LO, LATE_T, D_WOLF_BAND_UP, WOLF_RGB, 0.35, 0)
for run in I_WOLF_EARLY:
    add_line(9, I_WOLF_T, run, WOLF_RGB, 0.8, 2.0)
for run in I_WOLF_LATE:
    add_line(9, LATE_T, run, WOLF_RGB, 0.7, 1.3)
add_band(9, LATE_T, I_SHEEP_BAND_LO, LATE_T, I_SHEEP_BAND_UP, SHEEP_RGB, 0.5, 0)
for run in I_SHEEP_EARLY:
    add_line(9, I_EARLY_T, run, SHEEP_RGB, 0.9, 2.8)
for run in I_SHEEP_LATE:
    add_line(9, LATE_T, run, SHEEP_RGB, 0.75, 1.5)

# ---------- axes ----------
layout_axes = {}
annotations = []
for k in range(1, 10):
    r, c = divmod(k - 1, 3)
    x0, x1 = COLS[c]
    y0, y1 = ROWS[r]
    common = dict(showline=True, mirror=True, linecolor=FRAME, linewidth=1, ticks="outside",
                  ticklen=3.5, tickwidth=1, tickcolor=FRAME, showgrid=False, zeroline=False,
                  tickfont=dict(family=SANS, size=10, color=TXT), fixedrange=True)
    xa = dict(domain=[px_x(x0), px_x(x1)], range=X_RANGES[k - 1], tickmode="array",
              tickvals=X_TICKS[k - 1], anchor=axn("y", k), **common)
    ya = dict(domain=[px_y(y1), px_y(y0)], range=Y_RANGES[k - 1], tickmode="array",
              tickvals=Y_TICKS[k - 1], anchor=axn("x", k), **common)
    if k == 6:
        ya["tickformat"] = ".1f"
    layout_axes["xaxis" if k == 1 else "xaxis%d" % k] = xa
    layout_axes["yaxis" if k == 1 else "yaxis%d" % k] = ya

    xc = (x0 + x1) / 2
    annotations.append(dict(text=PANEL_TITLES[k - 1], x=px_x(xc), y=px_y(y0 - 11),
                            xref="paper", yref="paper", showarrow=False, xanchor="center", yanchor="middle",
                            font=dict(family=SANS, size=11.2, color=TXT)))
    annotations.append(dict(text="Time", x=px_x(xc), y=px_y(y1 + 27),
                            xref="paper", yref="paper", showarrow=False, xanchor="center", yanchor="middle",
                            font=dict(family=SANS, size=10.5, color=TXT)))
    ylab_x = x0 - (27 if k in (7, 8) else 37)
    annotations.append(dict(text="Number", x=px_x(ylab_x), y=px_y((y0 + y1) / 2 + 3),
                            xref="paper", yref="paper", showarrow=False, xanchor="center", yanchor="middle",
                            textangle=-90, font=dict(family=SANS, size=10.5, color=TXT)))
    annotations.append(dict(text="<b>%s</b> %s" % (CAP_TAGS[k - 1], CAP_TEXT[k - 1]),
                            x=px_x(xc - 6), y=px_y(y1 + 71),
                            xref="paper", yref="paper", showarrow=False, xanchor="center", yanchor="middle",
                            font=dict(family=SERIF, size=25.3, color="black")))

annotations.append(dict(
    text="Predator-Wolves <span style='color:#6cb44c'>Grass</span>\u00a0\u00a0<span style='color:#5c3a17'>Prey-Sheep</span>",
    x=px_x(570), y=px_y(30), xref="paper", yref="paper", showarrow=False,
    xanchor="center", yanchor="middle", font=dict(family=SERIF, size=27.3, color="black")))

fig.update_layout(
    width=FIG_W, height=FIG_H, autosize=False,
    margin=dict(l=0, r=0, t=0, b=0),
    paper_bgcolor="white", plot_bgcolor="white",
    showlegend=False,
    annotations=annotations,
    shapes=[dict(type="rect", xref="paper", yref="paper", x0=px_x(282), x1=px_x(858),
                 y0=px_y(52), y1=px_y(8), line=dict(color="black", width=1))],
    **layout_axes,
)

fig.write_html("out.html")
